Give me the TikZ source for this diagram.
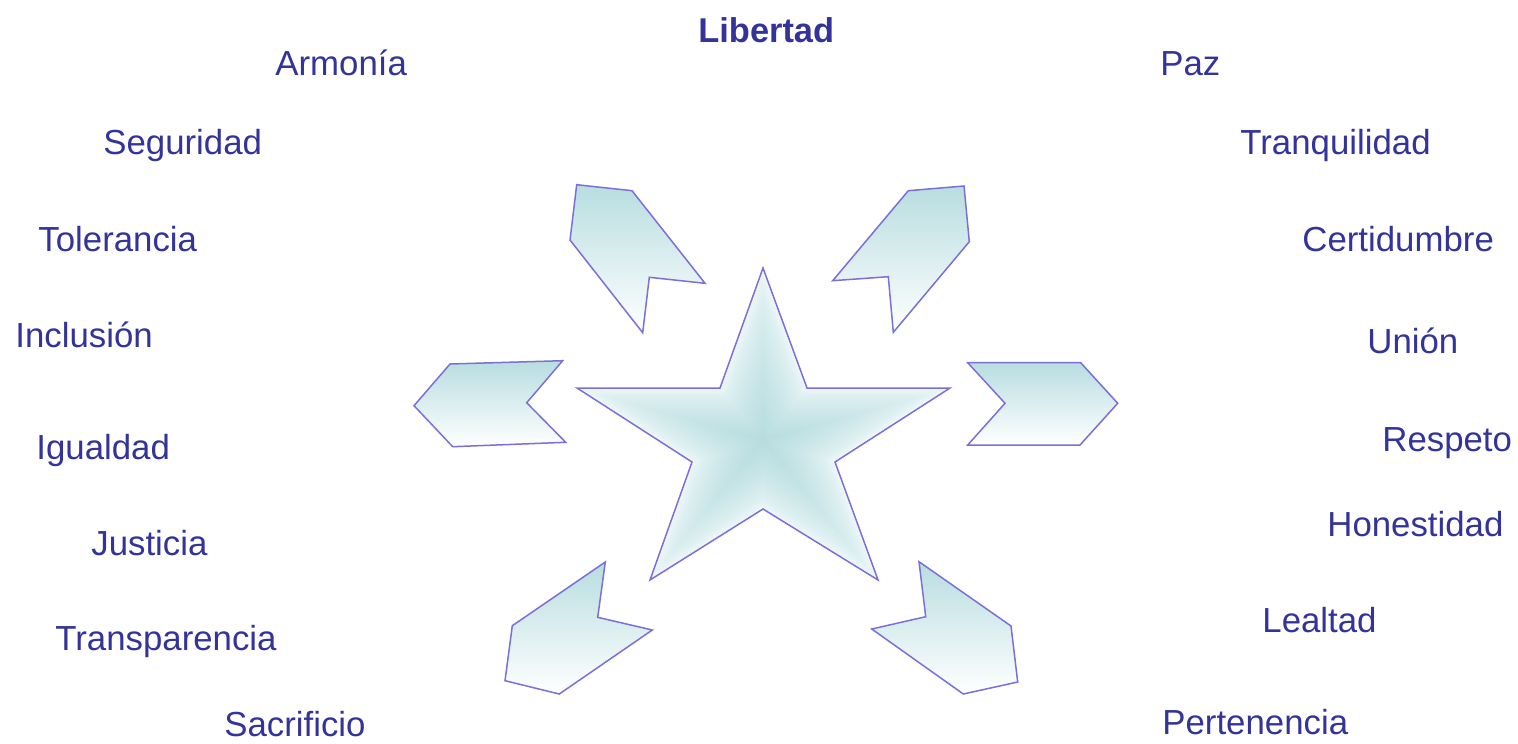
\documentclass[tikz,border=0pt]{standalone}
\usepackage{fontspec}
\setmainfont{Liberation Sans}
\usepackage{xcolor}
\definecolor{cText}{HTML}{333399}
\definecolor{cLine}{HTML}{7B6FD8}
\definecolor{cTeal}{HTML}{B8DDE0}
\definecolor{cPale}{HTML}{F1F9FA}
\usetikzlibrary{calc}
\tikzset{
  word/.style={text=cText,anchor=base west,inner sep=0pt,
    font=\fontsize{17.4}{20}\selectfont},
  word-bold/.style={word,font=\fontsize{17.2}{20}\selectfont\bfseries},
  chev/.style={draw=cLine,line width=0.75pt,line join=miter,
    top color=cTeal,bottom color=white},
  star-line/.style={draw=cLine,line width=0.75pt,line join=miter},
}
% contour of the star, in pixel units
\newcommand\starpath{(763,268) -- (807,388) -- (950,388) -- (835,462)
  -- (878,580) -- (763,509) -- (650,580) -- (692,462) -- (577,388)
  -- (720,388) -- cycle}

\begin{document}
\begin{tikzpicture}[x=0.5pt,y=-0.5pt]
  \useasboundingbox (0,0) rectangle (1518,743);
  \coordinate (star-c) at (763,440);
  % star: nested copies give the centre-to-edge gradient
  \foreach \i in {0,...,30} {
    \pgfmathsetmacro\s{1-\i/31}
    \pgfmathtruncatemacro\p{100*(\i/30)^0.6}
    \fill[cTeal!\p!cPale,scale around={\s:(star-c)}] \starpath;
  }
  \draw[star-line] \starpath;
  % chevrons round the star
  \draw[chev] (576.7,184.7) -- (632,190.7) -- (705,283.3) -- (649.3,277.3)
    -- (642.7,332.7) -- (570,240) -- cycle;
  \draw[chev] (908.3,190.7) -- (964,186) -- (969.3,241.7) -- (893.3,332.3)
    -- (888.3,276.7) -- (832.7,280.7) -- cycle;
  \draw[chev] (450,364) -- (562.7,360.7) -- (526.7,402.7) -- (565.7,442.3)
    -- (452.7,446.7) -- (414,405.7) -- cycle;
  \draw[chev] (967.7,362.7) -- (1080.7,362.7) -- (1117.7,403.3) -- (1080,445)
    -- (967.7,445) -- (1005,403.3) -- cycle;
  \draw[chev] (605.3,562) -- (597.7,617.3) -- (652.3,630) -- (559.3,694)
    -- (505,680.7) -- (512.3,625.7) -- cycle;
  \draw[chev] (919,561.7) -- (1011,626) -- (1017.7,682) -- (963.3,694)
    -- (871.7,629) -- (925.7,616.7) -- cycle;
  % values
  \node[word-bold] (libertad) at (698,43) {Libertad};
  \foreach \nm/\x/\y/\txt in {
      armonia/275/76/Armonía, paz/1160/76/Paz,
      seguridad/103/155/Seguridad, tranquilidad/1240/155/Tranquilidad,
      tolerancia/38/251/Tolerancia, certidumbre/1302/251/Certidumbre,
      inclusion/15/347/Inclusión, union/1367/353/Unión,
      igualdad/36/459/Igualdad, respeto/1382/451/Respeto,
      justicia/91/555/Justicia, honestidad/1327/536/Honestidad,
      transparencia/55/650/Transparencia, lealtad/1262/632/Lealtad,
      sacrificio/224/736/Sacrificio, pertenencia/1162/734/Pertenencia} {
    \node[word] (\nm) at (\x,\y) {\txt};
  }
\end{tikzpicture}
\end{document}
